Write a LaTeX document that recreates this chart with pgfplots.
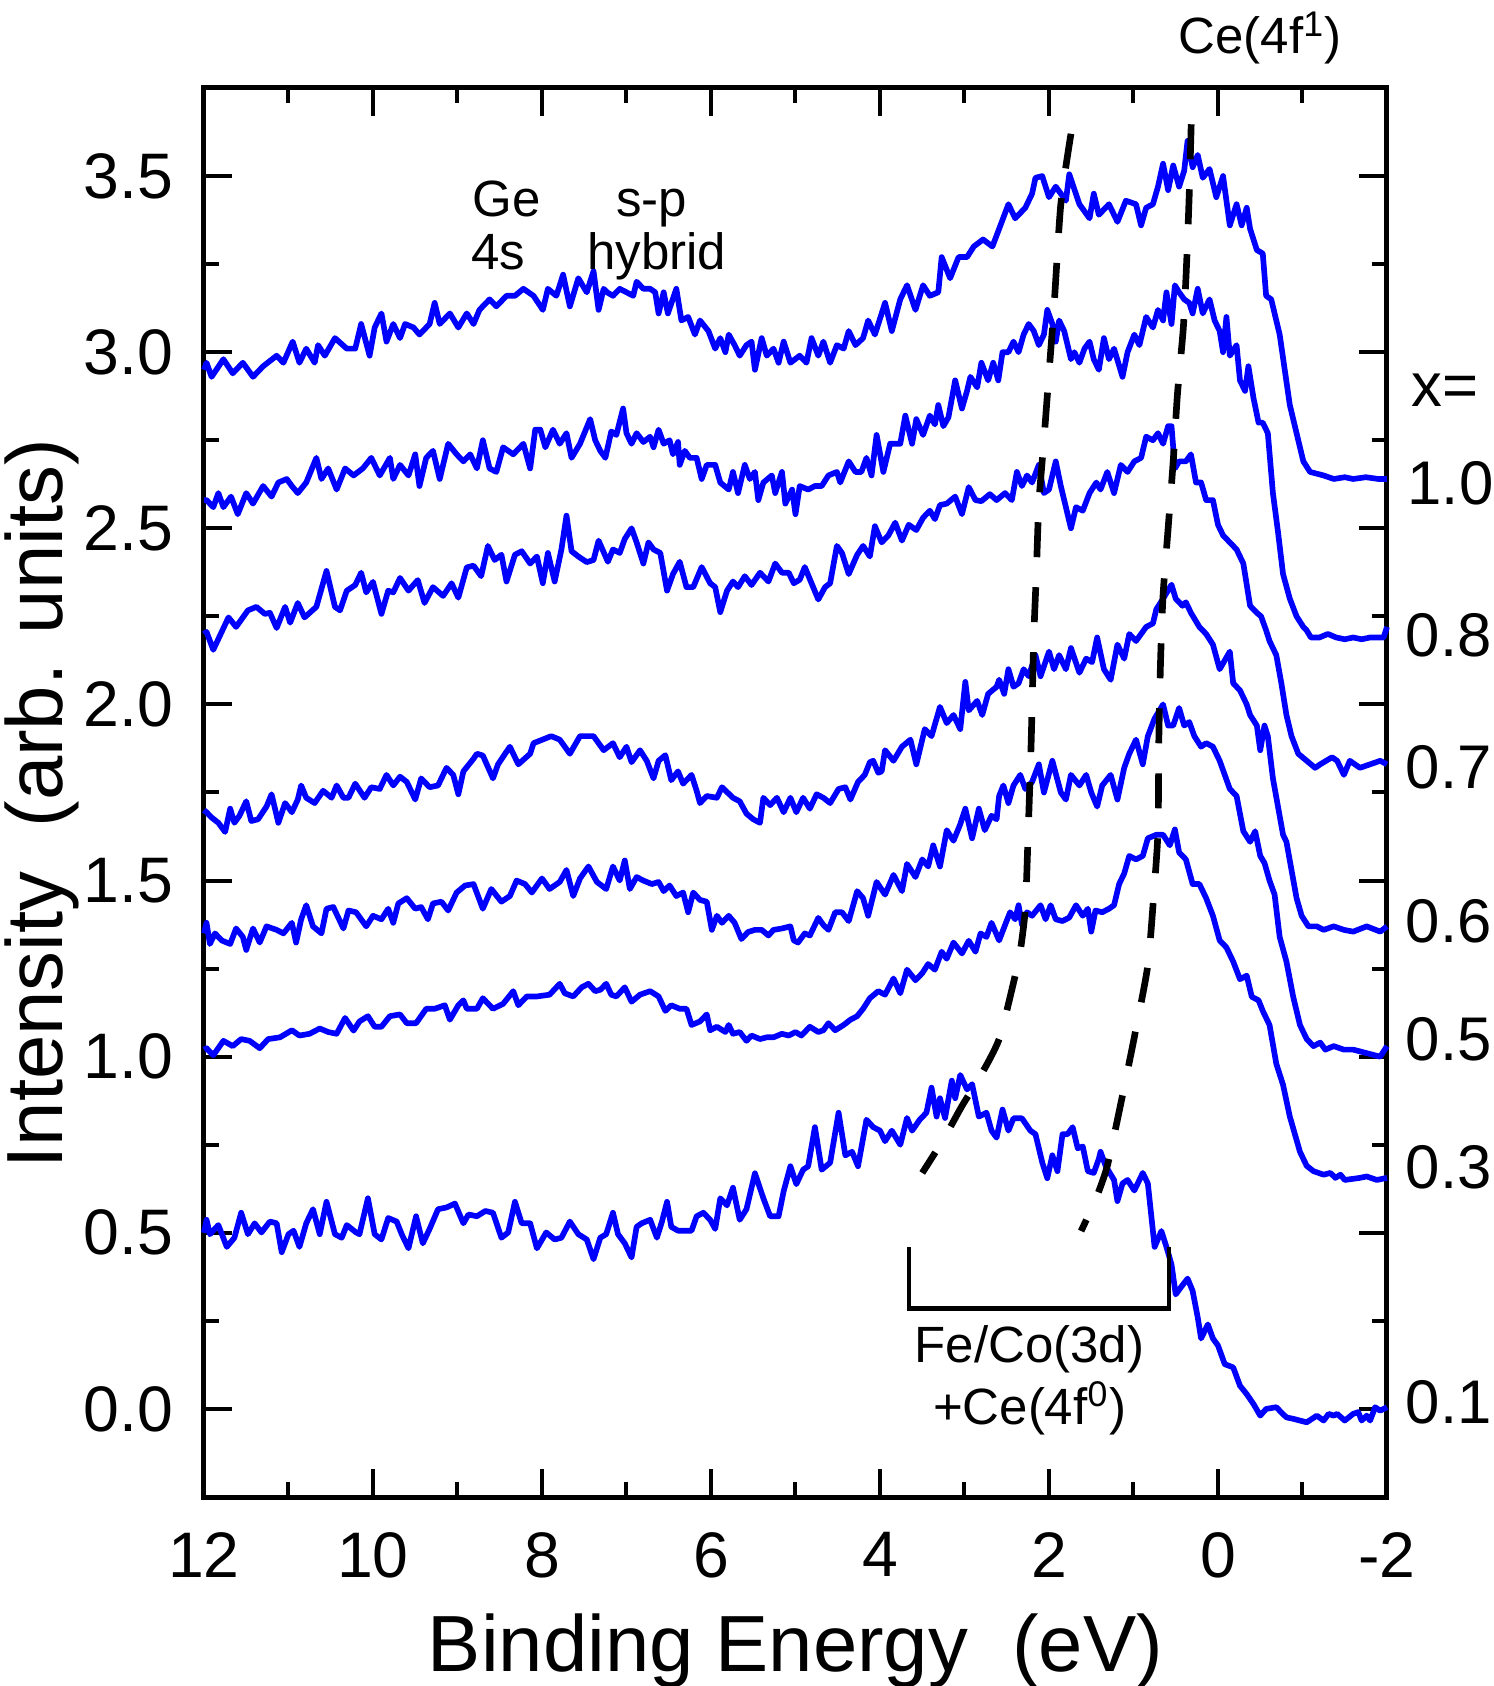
\documentclass[border=0pt]{standalone}
\usepackage{fontspec}
\setmainfont{Liberation Sans}
\usepackage{pgfplots}
\pgfplotsset{compat=1.18}

\newcommand{\tickfont}{\fontsize{19.3}{22}\selectfont}
\newcommand{\labfont}{\fontsize{23.9}{28}\selectfont}
\newcommand{\annfont}{\fontsize{15.3}{18}\selectfont}
\newcommand{\xfont}{\fontsize{18.5}{21}\selectfont}

\pgfplotsset{
  spec/.style={blue, line width=1.7pt, line join=round, mark=none},
  guide/.style={black, line width=2pt, dash pattern=on 10.5pt off 9pt, mark=none, smooth, tension=0.4},
}

\begin{document}
\begin{tikzpicture}
\begin{axis}[
  name=ax,
  scale only axis, width=354.9pt, height=422.7pt,
  x dir=reverse,
  xmin=-2, xmax=12, ymin=-0.25, ymax=3.75,
  xtick={-2,0,...,12}, minor xtick={-1,1,...,11},
  ytick={0,0.5,...,3.5}, minor ytick={0.25,0.75,...,3.25},
  tick align=inside,
  major tick length=8.4pt, minor tick length=4.5pt,
  every tick/.style={black, line width=1.2pt},
  axis line style={line width=1.5pt},
  tick label style={font=\tickfont},
  /pgf/number format/assume math mode=true,
  yticklabel style={/pgf/number format/fixed, /pgf/number format/precision=1,
    /pgf/number format/fixed zerofill, xshift=-5.7pt},
  xticklabel style={yshift=-7pt},
  xlabel={Binding Energy\ \ (eV)},
  xlabel style={at={(axis description cs:0.5,-0.124)}, anchor=base, font=\labfont},
  ylabel={Intensity\ \ (arb. units)},
  ylabel style={at={(axis description cs:-0.12,0.492)}, anchor=base, font=\labfont},
  clip=false,
]
% x = 1.0
\addplot[spec] coordinates {
(12,2.95) (11.97,2.97) (11.91,2.93) (11.77,2.98) (11.66,2.94) (11.54,2.97) (11.42,2.93) (11.30,2.96)
(11.14,2.99) (11.06,2.97) (10.95,3.03) (10.87,2.97) (10.79,3.01) (10.69,2.97) (10.65,3.02) (10.57,2.99)
(10.45,3.04) (10.31,3.01) (10.21,3.01) (10.14,3.08) (10.04,2.99) (9.98,3.07) (9.90,3.11) (9.84,3.03)
(9.76,3.08) (9.68,3.04) (9.62,3.08) (9.52,3.07) (9.45,3.05) (9.33,3.08) (9.27,3.14) (9.21,3.08)
(9.09,3.11) (8.99,3.07) (8.89,3.11) (8.81,3.08) (8.74,3.12) (8.62,3.15) (8.54,3.13) (8.42,3.16)
(8.32,3.16) (8.22,3.18) (8.10,3.16) (7.99,3.12) (7.93,3.18) (7.83,3.16) (7.75,3.22) (7.67,3.13)
(7.57,3.21) (7.47,3.17) (7.39,3.23) (7.33,3.12) (7.27,3.18) (7.23,3.17) (7.16,3.16) (7.08,3.18)
(7.00,3.17) (6.92,3.16) (6.88,3.20) (6.80,3.18) (6.72,3.18) (6.66,3.17) (6.62,3.11) (6.56,3.17)
(6.51,3.11) (6.41,3.18) (6.35,3.09) (6.27,3.10) (6.19,3.05) (6.13,3.09) (6.03,3.06) (5.95,3.01)
(5.89,3.04) (5.83,3.00) (5.79,3.05) (5.72,3.02) (5.66,2.99) (5.58,3.02) (5.52,3.03) (5.48,2.95)
(5.40,3.04) (5.34,2.99) (5.26,3.01) (5.20,2.97) (5.14,3.03) (5.06,2.97) (4.95,2.99) (4.87,2.97)
(4.81,3.04) (4.73,2.99) (4.67,3.03) (4.59,2.97) (4.51,3.02) (4.43,3.01) (4.37,3.06) (4.29,3.02)
(4.20,3.04) (4.14,3.09) (4.06,3.05) (3.94,3.14) (3.86,3.06) (3.76,3.15) (3.68,3.19) (3.58,3.12)
(3.49,3.19) (3.41,3.16) (3.31,3.17) (3.27,3.27) (3.17,3.21) (3.07,3.27) (2.97,3.27) (2.89,3.30)
(2.78,3.32) (2.67,3.30) (2.59,3.35) (2.48,3.42) (2.40,3.38) (2.28,3.41) (2.20,3.45) (2.16,3.495)
(2.08,3.50) (2.00,3.44) (1.92,3.47) (1.80,3.43) (1.76,3.505) (1.64,3.42) (1.52,3.38) (1.47,3.45)
(1.41,3.39) (1.29,3.42) (1.19,3.37) (1.09,3.43) (0.97,3.42) (0.91,3.36) (0.85,3.41) (0.77,3.42)
(0.71,3.47) (0.65,3.535) (0.59,3.46) (0.53,3.53) (0.46,3.47) (0.40,3.515) (0.36,3.60) (0.30,3.525)
(0.24,3.56) (0.18,3.495) (0.10,3.52) (0.02,3.44) (-0.06,3.50) (-0.14,3.36) (-0.22,3.42) (-0.28,3.36)
(-0.34,3.41) (-0.38,3.35) (-0.46,3.29) (-0.53,3.28) (-0.57,3.16) (-0.63,3.15) (-0.73,3.05) (-0.79,2.95)
(-0.85,2.85) (-0.93,2.77) (-1.01,2.69) (-1.09,2.66) (-1.25,2.65) (-1.37,2.64) (-1.50,2.645) (-1.60,2.64)
(-1.75,2.645) (-1.90,2.64) (-2.00,2.64)
};
% x = 0.8
\addplot[spec] coordinates {
(12,2.58) (11.97,2.58) (11.89,2.56) (11.83,2.60) (11.77,2.56) (11.68,2.59) (11.60,2.54) (11.50,2.60)
(11.42,2.57) (11.30,2.62) (11.20,2.59) (11.12,2.63) (11.02,2.64) (10.96,2.62) (10.89,2.60) (10.79,2.63)
(10.67,2.70) (10.61,2.64) (10.53,2.67) (10.43,2.61) (10.33,2.67) (10.23,2.65) (10.12,2.67) (10.02,2.70)
(9.92,2.65) (9.80,2.70) (9.76,2.64) (9.68,2.68) (9.58,2.65) (9.50,2.71) (9.45,2.62) (9.37,2.70)
(9.29,2.72) (9.21,2.64) (9.11,2.74) (9.01,2.71) (8.93,2.69) (8.85,2.71) (8.77,2.67) (8.70,2.75)
(8.62,2.67) (8.54,2.66) (8.46,2.73) (8.34,2.71) (8.22,2.74) (8.14,2.67) (8.08,2.78) (8.02,2.78)
(7.96,2.73) (7.87,2.78) (7.79,2.74) (7.71,2.77) (7.65,2.70) (7.55,2.74) (7.43,2.81) (7.37,2.75)
(7.31,2.72) (7.25,2.70) (7.18,2.775) (7.12,2.765) (7.04,2.84) (7.00,2.77) (6.94,2.74) (6.88,2.77)
(6.80,2.745) (6.72,2.76) (6.68,2.73) (6.62,2.78) (6.56,2.74) (6.49,2.75) (6.45,2.71) (6.39,2.745)
(6.37,2.68) (6.31,2.72) (6.25,2.70) (6.17,2.70) (6.11,2.64) (6.05,2.68) (5.95,2.68) (5.89,2.63)
(5.79,2.61) (5.74,2.66) (5.68,2.60) (5.60,2.68) (5.54,2.64) (5.48,2.66) (5.44,2.58) (5.38,2.63)
(5.28,2.65) (5.24,2.60) (5.16,2.66) (5.12,2.57) (5.04,2.61) (5.00,2.54) (4.95,2.62) (4.85,2.61)
(4.77,2.62) (4.69,2.62) (4.61,2.65) (4.51,2.66) (4.47,2.63) (4.37,2.69) (4.29,2.66) (4.22,2.66)
(4.16,2.70) (4.10,2.65) (4.04,2.765) (3.96,2.66) (3.88,2.74) (3.76,2.74) (3.70,2.82) (3.62,2.74)
(3.57,2.81) (3.49,2.765) (3.41,2.82) (3.35,2.795) (3.31,2.85) (3.25,2.79) (3.19,2.815) (3.11,2.92)
(3.03,2.84) (2.97,2.89) (2.93,2.93) (2.85,2.90) (2.80,2.97) (2.72,2.92) (2.66,2.97) (2.60,2.92)
(2.55,3.00) (2.48,3.00) (2.42,3.03) (2.36,3.00) (2.30,3.05) (2.24,3.08) (2.18,3.06) (2.12,3.02)
(2.06,3.05) (2.02,3.12) (1.96,3.08) (1.92,3.03) (1.88,3.09) (1.82,3.06) (1.74,2.98) (1.70,3.00)
(1.64,2.97) (1.58,3.01) (1.52,3.03) (1.47,2.98) (1.41,2.95) (1.35,3.04) (1.29,2.98) (1.23,3.01)
(1.13,2.93) (1.07,3.00) (0.99,3.05) (0.93,3.02) (0.85,3.10) (0.77,3.07) (0.71,3.12) (0.65,3.09)
(0.61,3.17) (0.55,3.08) (0.51,3.19) (0.46,3.17) (0.40,3.15) (0.34,3.14) (0.30,3.11) (0.24,3.18)
(0.18,3.11) (0.10,3.15) (0.04,3.09) (-0.02,3.06) (-0.06,3.00) (-0.10,3.10) (-0.14,2.99) (-0.22,3.02)
(-0.26,2.92) (-0.32,2.89) (-0.36,2.96) (-0.42,2.87) (-0.48,2.80) (-0.53,2.80) (-0.59,2.77) (-0.65,2.60)
(-0.71,2.49) (-0.77,2.37) (-0.85,2.30) (-0.93,2.25) (-1.01,2.22) (-1.05,2.21) (-1.10,2.19) (-1.20,2.19)
(-1.30,2.20) (-1.40,2.19) (-1.50,2.185) (-1.60,2.19) (-1.70,2.185) (-1.80,2.19) (-1.90,2.19) (-1.96,2.19)
(-2.00,2.22)
};
% x = 0.7
\addplot[spec] coordinates {
(12,2.20) (11.97,2.206) (11.89,2.155) (11.81,2.196) (11.71,2.247) (11.62,2.22) (11.48,2.267) (11.38,2.277)
(11.28,2.257) (11.22,2.26) (11.14,2.217) (11.04,2.277) (10.98,2.232) (10.89,2.288) (10.81,2.247) (10.67,2.277)
(10.55,2.379) (10.45,2.277) (10.39,2.267) (10.31,2.323) (10.21,2.339) (10.14,2.374) (10.08,2.318) (10.00,2.348)
(9.90,2.257) (9.82,2.323) (9.76,2.318) (9.68,2.359) (9.58,2.323) (9.47,2.353) (9.39,2.288) (9.29,2.333)
(9.17,2.308) (9.07,2.344) (8.99,2.303) (8.89,2.389) (8.81,2.394) (8.72,2.364) (8.64,2.45) (8.56,2.41)
(8.48,2.425) (8.42,2.349) (8.32,2.425) (8.24,2.435) (8.14,2.40) (8.06,2.42) (7.99,2.344) (7.93,2.43)
(7.85,2.349) (7.77,2.44) (7.71,2.536) (7.65,2.435) (7.57,2.42) (7.47,2.404) (7.39,2.41) (7.33,2.465)
(7.22,2.405) (7.16,2.44) (7.08,2.43) (7.02,2.47) (6.94,2.50) (6.88,2.46) (6.80,2.40) (6.74,2.46)
(6.68,2.44) (6.60,2.43) (6.52,2.323) (6.45,2.37) (6.37,2.405) (6.29,2.333) (6.21,2.333) (6.11,2.39)
(6.01,2.344) (5.95,2.333) (5.89,2.262) (5.81,2.323) (5.74,2.349) (5.68,2.333) (5.60,2.364) (5.52,2.339)
(5.42,2.374) (5.32,2.349) (5.24,2.40) (5.16,2.374) (5.08,2.374) (5.02,2.344) (4.95,2.354) (4.89,2.39)
(4.81,2.344) (4.73,2.298) (4.65,2.333) (4.59,2.344) (4.51,2.45) (4.45,2.43) (4.37,2.37) (4.27,2.425)
(4.20,2.45) (4.12,2.42) (4.06,2.506) (3.98,2.46) (3.90,2.48) (3.82,2.516) (3.74,2.465) (3.66,2.51)
(3.57,2.495) (3.49,2.53) (3.41,2.55) (3.35,2.526) (3.29,2.566) (3.21,2.57) (3.11,2.59) (3.03,2.54)
(2.95,2.617) (2.87,2.58) (2.80,2.577) (2.70,2.597) (2.62,2.58) (2.52,2.60) (2.44,2.58) (2.38,2.66)
(2.32,2.62) (2.26,2.65) (2.20,2.63) (2.12,2.68) (2.06,2.60) (2.00,2.61) (1.92,2.69) (1.86,2.62)
(1.80,2.56) (1.74,2.50) (1.68,2.56) (1.60,2.55) (1.52,2.60) (1.44,2.63) (1.39,2.61) (1.31,2.66)
(1.23,2.60) (1.15,2.68) (1.07,2.66) (0.99,2.69) (0.91,2.70) (0.85,2.76) (0.77,2.75) (0.71,2.77)
(0.65,2.74) (0.59,2.79) (0.55,2.79) (0.51,2.67) (0.46,2.69) (0.38,2.69) (0.32,2.71) (0.26,2.63)
(0.20,2.63) (0.14,2.58) (0.06,2.58) (0.00,2.51) (-0.06,2.48) (-0.14,2.46) (-0.22,2.44) (-0.30,2.40)
(-0.38,2.28) (-0.46,2.26) (-0.51,2.25) (-0.57,2.21) (-0.61,2.18) (-0.69,2.14) (-0.75,2.06) (-0.81,1.97)
(-0.87,1.91) (-0.95,1.86) (-1.05,1.84) (-1.15,1.82) (-1.21,1.83) (-1.35,1.85) (-1.41,1.84) (-1.49,1.80)
(-1.56,1.84) (-1.68,1.82) (-1.80,1.83) (-1.92,1.84) (-2.00,1.83)
};
% x = 0.6
\addplot[spec] coordinates {
(12,1.70) (11.97,1.694) (11.91,1.679) (11.83,1.664) (11.75,1.638) (11.69,1.704) (11.64,1.664) (11.58,1.684)
(11.50,1.725) (11.44,1.669) (11.36,1.674) (11.26,1.71) (11.20,1.745) (11.12,1.664) (11.04,1.72) (10.96,1.694)
(10.89,1.73) (10.85,1.77) (10.79,1.735) (10.69,1.72) (10.59,1.755) (10.49,1.735) (10.43,1.77) (10.35,1.735)
(10.29,1.735) (10.21,1.775) (10.10,1.735) (10.02,1.765) (9.92,1.76) (9.84,1.80) (9.76,1.77) (9.68,1.795)
(9.60,1.78) (9.50,1.73) (9.43,1.79) (9.33,1.765) (9.23,1.77) (9.13,1.82) (9.05,1.80) (8.99,1.745)
(8.93,1.81) (8.81,1.846) (8.77,1.86) (8.70,1.855) (8.58,1.79) (8.52,1.83) (8.38,1.88) (8.28,1.83)
(8.14,1.86) (8.10,1.89) (7.89,1.91) (7.79,1.90) (7.67,1.86) (7.55,1.91) (7.39,1.91) (7.27,1.87)
(7.16,1.89) (7.08,1.85) (7.00,1.88) (6.94,1.836) (6.84,1.87) (6.76,1.84) (6.68,1.79) (6.62,1.84)
(6.54,1.856) (6.47,1.785) (6.39,1.81) (6.33,1.775) (6.23,1.80) (6.17,1.755) (6.13,1.72) (6.05,1.74)
(5.93,1.735) (5.87,1.765) (5.74,1.735) (5.66,1.725) (5.58,1.69) (5.50,1.674) (5.42,1.664) (5.38,1.735)
(5.30,1.714) (5.22,1.735) (5.14,1.694) (5.06,1.735) (4.99,1.694) (4.91,1.735) (4.83,1.704) (4.75,1.745)
(4.67,1.735) (4.59,1.72) (4.49,1.76) (4.41,1.765) (4.35,1.73) (4.26,1.78) (4.18,1.80) (4.12,1.836)
(4.08,1.84) (4.02,1.806) (3.98,1.81) (3.94,1.87) (3.84,1.84) (3.74,1.88) (3.64,1.90) (3.57,1.83)
(3.47,1.93) (3.39,1.91) (3.29,1.993) (3.21,1.947) (3.13,1.97) (3.05,1.93) (2.99,2.064) (2.95,1.983)
(2.85,2.01) (2.79,1.97) (2.72,2.03) (2.62,2.05) (2.59,2.07) (2.53,2.03) (2.48,2.10) (2.42,2.05)
(2.36,2.06) (2.30,2.10) (2.24,2.08) (2.16,2.14) (2.10,2.08) (2.00,2.15) (1.94,2.10) (1.88,2.14)
(1.80,2.10) (1.74,2.16) (1.64,2.09) (1.56,2.13) (1.49,2.12) (1.43,2.19) (1.35,2.10) (1.27,2.07)
(1.19,2.17) (1.11,2.13) (1.05,2.20) (0.97,2.18) (0.85,2.22) (0.77,2.23) (0.73,2.27) (0.65,2.30)
(0.55,2.34) (0.50,2.30) (0.42,2.28) (0.38,2.29) (0.32,2.26) (0.22,2.22) (0.14,2.20) (0.06,2.17)
(-0.02,2.10) (-0.14,2.15) (-0.18,2.06) (-0.26,2.04) (-0.34,2.00) (-0.38,1.97) (-0.46,1.94) (-0.50,1.87)
(-0.55,1.94) (-0.59,1.91) (-0.65,1.79) (-0.71,1.71) (-0.77,1.63) (-0.81,1.61) (-0.87,1.53) (-0.93,1.45)
(-0.99,1.40) (-1.07,1.37) (-1.17,1.37) (-1.25,1.36) (-1.37,1.37) (-1.49,1.36) (-1.60,1.355) (-1.76,1.37)
(-1.92,1.355) (-2.00,1.37)
};
% x = 0.5
\addplot[spec] coordinates {
(12,1.35) (11.97,1.38) (11.93,1.32) (11.87,1.35) (11.79,1.33) (11.69,1.32) (11.62,1.364) (11.54,1.34)
(11.50,1.303) (11.42,1.364) (11.34,1.324) (11.26,1.37) (11.14,1.36) (11.06,1.35) (10.96,1.38) (10.91,1.324)
(10.85,1.39) (10.79,1.43) (10.71,1.37) (10.61,1.35) (10.55,1.42) (10.47,1.425) (10.35,1.364) (10.29,1.415)
(10.20,1.41) (10.08,1.37) (10.00,1.40) (9.90,1.39) (9.82,1.42) (9.76,1.38) (9.70,1.435) (9.60,1.45)
(9.50,1.42) (9.43,1.425) (9.35,1.39) (9.29,1.435) (9.19,1.44) (9.11,1.415) (9.01,1.466) (8.91,1.486)
(8.81,1.49) (8.70,1.42) (8.60,1.476) (8.48,1.44) (8.38,1.456) (8.30,1.50) (8.20,1.49) (8.12,1.466)
(8.00,1.506) (7.91,1.476) (7.79,1.496) (7.71,1.53) (7.63,1.456) (7.55,1.506) (7.45,1.54) (7.35,1.496)
(7.24,1.476) (7.16,1.54) (7.08,1.50) (7.02,1.557) (6.96,1.476) (6.88,1.51) (6.80,1.50) (6.70,1.49)
(6.62,1.496) (6.56,1.47) (6.49,1.486) (6.41,1.456) (6.33,1.466) (6.27,1.41) (6.21,1.466) (6.13,1.445)
(6.05,1.44) (5.99,1.36) (5.93,1.40) (5.87,1.38) (5.79,1.40) (5.72,1.38) (5.64,1.334) (5.56,1.354)
(5.48,1.36) (5.40,1.36) (5.32,1.344) (5.26,1.36) (5.16,1.364) (5.06,1.37) (5.02,1.33) (4.97,1.324)
(4.89,1.35) (4.83,1.344) (4.73,1.394) (4.67,1.374) (4.61,1.36) (4.53,1.41) (4.45,1.41) (4.37,1.385)
(4.27,1.47) (4.20,1.45) (4.14,1.40) (4.04,1.496) (3.94,1.46) (3.84,1.516) (3.74,1.47) (3.68,1.547)
(3.58,1.51) (3.50,1.56) (3.43,1.54) (3.37,1.60) (3.29,1.54) (3.21,1.643) (3.13,1.613) (3.05,1.66)
(2.99,1.704) (2.91,1.62) (2.83,1.704) (2.76,1.643) (2.68,1.684) (2.62,1.674) (2.59,1.74) (2.54,1.77)
(2.48,1.72) (2.42,1.77) (2.34,1.80) (2.28,1.76) (2.20,1.78) (2.12,1.83) (2.06,1.75) (1.96,1.84)
(1.86,1.75) (1.80,1.73) (1.74,1.80) (1.64,1.77) (1.56,1.80) (1.50,1.75) (1.43,1.71) (1.37,1.77)
(1.27,1.80) (1.19,1.73) (1.11,1.82) (1.05,1.86) (0.97,1.90) (0.89,1.83) (0.83,1.91) (0.75,1.96)
(0.65,2.00) (0.59,1.94) (0.53,1.94) (0.46,1.99) (0.40,1.94) (0.34,1.95) (0.28,1.91) (0.20,1.88)
(0.14,1.89) (0.06,1.88) (-0.02,1.84) (-0.08,1.80) (-0.14,1.76) (-0.22,1.74) (-0.30,1.64) (-0.38,1.61)
(-0.44,1.64) (-0.50,1.57) (-0.55,1.55) (-0.61,1.50) (-0.67,1.46) (-0.73,1.34) (-0.81,1.27) (-0.89,1.17)
(-0.97,1.09) (-1.05,1.05) (-1.13,1.03) (-1.21,1.04) (-1.27,1.02) (-1.37,1.03) (-1.49,1.02) (-1.60,1.02)
(-1.76,1.01) (-1.92,1.00) (-2.00,1.03)
};
% x = 0.3
\addplot[spec] coordinates {
(12,1.02) (11.97,1.024) (11.89,1.004) (11.77,1.045) (11.66,1.03) (11.56,1.05) (11.46,1.045) (11.34,1.024)
(11.24,1.05) (11.10,1.055) (10.96,1.075) (10.87,1.06) (10.75,1.065) (10.63,1.08) (10.53,1.07) (10.43,1.065)
(10.33,1.11) (10.23,1.074) (10.16,1.10) (10.06,1.115) (9.98,1.085) (9.90,1.085) (9.80,1.115) (9.68,1.12)
(9.60,1.095) (9.49,1.095) (9.37,1.136) (9.27,1.136) (9.15,1.146) (9.09,1.105) (8.99,1.146) (8.93,1.16)
(8.89,1.136) (8.77,1.136) (8.70,1.166) (8.58,1.136) (8.46,1.15) (8.34,1.186) (8.28,1.146) (8.18,1.171)
(8.06,1.171) (7.91,1.176) (7.79,1.207) (7.73,1.18) (7.63,1.171) (7.53,1.197) (7.45,1.207) (7.37,1.186)
(7.31,1.19) (7.24,1.207) (7.18,1.176) (7.12,1.171) (7.02,1.197) (6.94,1.156) (6.84,1.176) (6.72,1.186)
(6.62,1.171) (6.54,1.13) (6.47,1.146) (6.37,1.136) (6.29,1.136) (6.23,1.09) (6.13,1.10) (6.05,1.12)
(6.01,1.075) (5.93,1.085) (5.83,1.07) (5.79,1.09) (5.74,1.065) (5.66,1.07) (5.58,1.045) (5.52,1.06)
(5.42,1.05) (5.34,1.055) (5.26,1.055) (5.16,1.065) (5.08,1.06) (5.00,1.07) (4.93,1.06) (4.83,1.085)
(4.73,1.07) (4.67,1.075) (4.61,1.095) (4.53,1.075) (4.43,1.09) (4.35,1.105) (4.27,1.115) (4.20,1.136)
(4.12,1.166) (4.02,1.186) (3.94,1.176) (3.84,1.222) (3.76,1.18) (3.68,1.247) (3.58,1.217) (3.50,1.237)
(3.43,1.263) (3.35,1.247) (3.27,1.298) (3.21,1.278) (3.13,1.324) (3.03,1.293) (2.95,1.329) (2.87,1.298)
(2.81,1.35) (2.74,1.34) (2.68,1.38) (2.59,1.33) (2.51,1.38) (2.46,1.41) (2.40,1.39) (2.36,1.43)
(2.32,1.375) (2.26,1.41) (2.20,1.40) (2.10,1.43) (2.04,1.39) (1.98,1.43) (1.92,1.39) (1.84,1.385)
(1.76,1.395) (1.68,1.43) (1.60,1.40) (1.54,1.42) (1.50,1.355) (1.45,1.415) (1.37,1.41) (1.29,1.42)
(1.23,1.43) (1.17,1.49) (1.11,1.52) (1.05,1.57) (0.97,1.56) (0.89,1.57) (0.83,1.62) (0.73,1.63)
(0.65,1.63) (0.57,1.60) (0.51,1.645) (0.46,1.58) (0.38,1.56) (0.30,1.49) (0.22,1.49) (0.14,1.45)
(0.06,1.40) (-0.02,1.33) (-0.10,1.31) (-0.18,1.27) (-0.26,1.22) (-0.34,1.23) (-0.40,1.17) (-0.48,1.16)
(-0.53,1.13) (-0.61,1.09) (-0.69,0.98) (-0.77,0.92) (-0.85,0.83) (-0.91,0.78) (-0.97,0.73) (-1.05,0.69)
(-1.13,0.675) (-1.25,0.665) (-1.33,0.67) (-1.39,0.656) (-1.45,0.665) (-1.50,0.65) (-1.68,0.656) (-1.76,0.66)
(-1.88,0.65) (-2.00,0.656)
};
% x = 0.1
\addplot[spec] coordinates {
(12,0.50) (11.97,0.537) (11.93,0.496) (11.83,0.522) (11.73,0.46) (11.64,0.486) (11.56,0.557) (11.48,0.496)
(11.40,0.527) (11.32,0.501) (11.22,0.532) (11.14,0.527) (11.08,0.445) (11.00,0.496) (10.94,0.506) (10.87,0.46)
(10.79,0.527) (10.71,0.567) (10.63,0.496) (10.55,0.588) (10.45,0.496) (10.37,0.486) (10.31,0.522) (10.20,0.501)
(10.16,0.496) (10.06,0.598) (9.98,0.496) (9.90,0.481) (9.82,0.542) (9.72,0.532) (9.66,0.496) (9.58,0.456)
(9.49,0.547) (9.41,0.47) (9.33,0.511) (9.23,0.567) (9.13,0.572) (9.03,0.583) (8.93,0.527) (8.87,0.552)
(8.77,0.547) (8.67,0.562) (8.58,0.557) (8.48,0.486) (8.40,0.501) (8.32,0.588) (8.24,0.527) (8.14,0.527)
(8.06,0.456) (7.95,0.501) (7.85,0.481) (7.77,0.486) (7.67,0.532) (7.57,0.496) (7.47,0.481) (7.39,0.425)
(7.31,0.486) (7.24,0.496) (7.16,0.557) (7.10,0.496) (7.02,0.47) (6.94,0.43) (6.88,0.517) (6.82,0.527)
(6.72,0.537) (6.64,0.486) (6.58,0.532) (6.52,0.588) (6.47,0.517) (6.39,0.506) (6.31,0.506) (6.23,0.506)
(6.17,0.547) (6.09,0.557) (6.01,0.537) (5.95,0.511) (5.89,0.598) (5.81,0.578) (5.74,0.628) (5.66,0.537)
(5.58,0.567) (5.48,0.669) (5.38,0.598) (5.30,0.547) (5.20,0.547) (5.14,0.618) (5.06,0.689) (4.99,0.638)
(4.91,0.679) (4.85,0.689) (4.77,0.80) (4.69,0.679) (4.59,0.699) (4.49,0.841) (4.41,0.72) (4.33,0.73)
(4.26,0.689) (4.16,0.821) (4.08,0.80) (4.00,0.79) (3.94,0.76) (3.86,0.79) (3.76,0.75) (3.68,0.826)
(3.62,0.79) (3.53,0.821) (3.45,0.841) (3.39,0.912) (3.33,0.83) (3.29,0.882) (3.23,0.826) (3.15,0.932)
(3.11,0.882) (3.05,0.948) (2.97,0.907) (2.91,0.922) (2.83,0.83) (2.74,0.841) (2.68,0.79) (2.62,0.77)
(2.55,0.85) (2.48,0.79) (2.42,0.825) (2.32,0.825) (2.22,0.79) (2.16,0.78) (2.08,0.70) (2.02,0.655)
(1.96,0.72) (1.90,0.675) (1.84,0.78) (1.78,0.78) (1.72,0.80) (1.66,0.74) (1.60,0.745) (1.54,0.675)
(1.47,0.67) (1.41,0.71) (1.39,0.73) (1.33,0.69) (1.23,0.65) (1.19,0.59) (1.13,0.64) (1.07,0.65)
(0.99,0.62) (0.89,0.67) (0.83,0.64) (0.75,0.46) (0.67,0.505) (0.61,0.46) (0.55,0.41) (0.50,0.325)
(0.44,0.345) (0.36,0.37) (0.30,0.335) (0.24,0.26) (0.20,0.20) (0.12,0.24) (0.06,0.20) (0.00,0.18)
(-0.08,0.127) (-0.18,0.118) (-0.26,0.066) (-0.34,0.042) (-0.42,0.014) (-0.50,-0.019) (-0.57,0.0) (-0.69,0.005)
(-0.75,-0.01) (-0.81,-0.024) (-0.89,-0.028) (-1.05,-0.038) (-1.17,-0.019) (-1.25,-0.033) (-1.31,-0.014) (-1.37,-0.019)
(-1.41,-0.014) (-1.50,-0.033) (-1.60,-0.014) (-1.66,-0.009) (-1.70,-0.033) (-1.76,-0.019) (-1.80,-0.033) (-1.86,0.005)
(-1.92,-0.005) (-2.00,0.005)
};
% guide lines
\addplot[guide] coordinates {
(1.74,3.62) (1.86,3.42) (1.94,3.13) (2.00,2.94) (2.06,2.75) (2.12,2.57) (2.15,2.37) (2.18,2.19)
(2.21,1.90) (2.25,1.61) (2.28,1.42) (2.34,1.30) (2.42,1.21) (2.59,1.05) (2.80,0.95) (3.03,0.86)
(3.25,0.765) (3.50,0.67)
};
\addplot[guide] coordinates {
(0.317,3.647) (0.34,3.45) (0.37,3.26) (0.41,3.07) (0.48,2.88) (0.53,2.69) (0.59,2.50) (0.65,2.31)
(0.68,2.12) (0.70,1.90) (0.71,1.64) (0.76,1.46) (0.83,1.26) (0.97,1.08) (1.13,0.89) (1.31,0.69)
(1.45,0.594) (1.62,0.505)
};
% bracket
\addplot[black, line width=1.3pt, mark=none] coordinates {(3.66,0.46) (3.66,0.285) (0.58,0.285) (0.58,0.46)};

\node[anchor=base, font=\annfont, inner sep=0pt] at (axis cs:8.42,3.385) {Ge};
\node[anchor=base, font=\annfont, inner sep=0pt] at (axis cs:8.52,3.234) {4s};
\node[anchor=base, font=\annfont, inner sep=0pt] at (axis cs:6.70,3.385) {s-p};
\node[anchor=base, font=\annfont, inner sep=0pt] at (axis cs:6.64,3.234) {hybrid};
\node[anchor=base, font=\annfont, inner sep=0pt] at (axis cs:2.23,0.132) {Fe/Co(3d)};
\node[anchor=base, font=\annfont, inner sep=0pt] at (axis cs:2.23,-0.043) {+Ce(4f\textsuperscript{0})};
\node[anchor=base, font=\annfont, inner sep=0pt] at (axis cs:-0.50,3.848) {Ce(4f\textsuperscript{1})};

\node[anchor=base west, font=\xfont, inner sep=0pt, xshift=7.2pt] at (axis cs:-2,2.845) {x=};
\node[anchor=base west, font=\xfont, inner sep=0pt, xshift=6pt] at (axis cs:-2,2.568) {1.0};
\node[anchor=base west, font=\xfont, inner sep=0pt, xshift=5.5pt] at (axis cs:-2,2.137) {0.8};
\node[anchor=base west, font=\xfont, inner sep=0pt, xshift=5.5pt] at (axis cs:-2,1.761) {0.7};
\node[anchor=base west, font=\xfont, inner sep=0pt, xshift=5.5pt] at (axis cs:-2,1.324) {0.6};
\node[anchor=base west, font=\xfont, inner sep=0pt, xshift=5.5pt] at (axis cs:-2,0.990) {0.5};
\node[anchor=base west, font=\xfont, inner sep=0pt, xshift=5.5pt] at (axis cs:-2,0.626) {0.3};
\node[anchor=base west, font=\xfont, inner sep=0pt, xshift=5.5pt] at (axis cs:-2,-0.040) {0.1};
\end{axis}
\pgfresetboundingbox
\path[use as bounding box] ([xshift=-61.2pt,yshift=-56.7pt]ax.south west) rectangle ++(447.9pt,505.8pt);
\end{tikzpicture}
\end{document}
